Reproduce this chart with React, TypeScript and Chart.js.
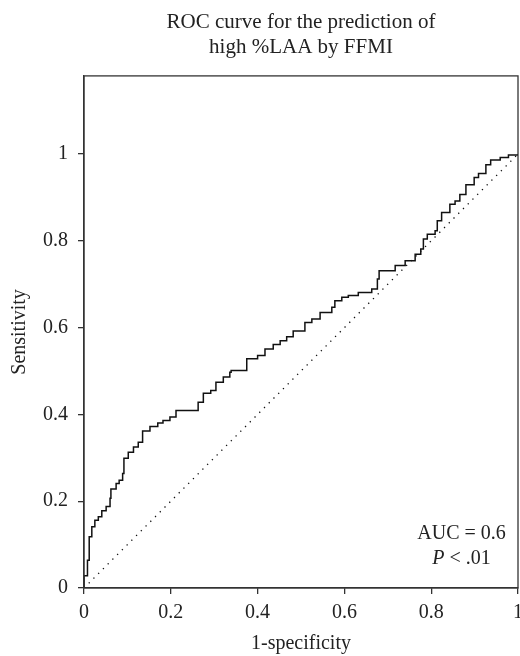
import { useEffect, useRef } from "react";
import { Chart, registerables } from "chart.js";

Chart.register(...registerables);

const titleLines = ["ROC curve for the prediction of", "high %LAA by FFMI"];
const xAxisTitle = "1-specificity";
const yAxisTitle = "Sensitivity";

const xTickValues = [0, 0.2, 0.4, 0.6, 0.8, 1];
const xTickLabels = ["0", "0.2", "0.4", "0.6", "0.8", "1"];
const yTickValues = [0, 0.2, 0.4, 0.6, 0.8, 1];
const yTickLabels = ["0", "0.2", "0.4", "0.6", "0.8", "1"];

// ROC curve (1-specificity, sensitivity), step points
const falsePositiveRate = [
  0, 0, 0.008, 0.012, 0.018, 0.025, 0.033, 0.041, 0.051, 0.06, 0.062, 0.074,
  0.081, 0.089, 0.092, 0.102, 0.114, 0.125, 0.135, 0.152, 0.17, 0.182, 0.198,
  0.212, 0.263, 0.275, 0.292, 0.304, 0.321, 0.336, 0.339, 0.375, 0.4, 0.417,
  0.436, 0.452, 0.467, 0.482, 0.509, 0.525, 0.544, 0.571, 0.578, 0.594, 0.609,
  0.632, 0.663, 0.676, 0.68, 0.717, 0.74, 0.763, 0.776, 0.782, 0.791, 0.809,
  0.814, 0.824, 0.843, 0.855, 0.866, 0.88, 0.899, 0.909, 0.926, 0.937, 0.959,
  0.978, 1,
];
const truePositiveRate = [
  0, 0.028, 0.064, 0.118, 0.141, 0.156, 0.164, 0.178, 0.188, 0.207, 0.228,
  0.241, 0.248, 0.264, 0.299, 0.313, 0.325, 0.336, 0.362, 0.372, 0.38, 0.386,
  0.394, 0.409, 0.428, 0.449, 0.455, 0.474, 0.486, 0.497, 0.501, 0.528, 0.536,
  0.551, 0.561, 0.57, 0.579, 0.592, 0.612, 0.62, 0.635, 0.647, 0.662, 0.67,
  0.674, 0.681, 0.689, 0.712, 0.731, 0.743, 0.754, 0.769, 0.781, 0.804, 0.815,
  0.823, 0.846, 0.865, 0.884, 0.892, 0.907, 0.929, 0.946, 0.955, 0.975, 0.986,
  0.992, 0.998, 1,
];

// chance diagonal
const referenceX = [0, 1];
const referenceY = [0, 1];

const aucLabel = "AUC = 0.6";
const pLetter = "P";
const pRest = " < .01";

const FONT = '"Liberation Serif", "DejaVu Serif", serif';
const INK = "#222";
const AXIS = "#333";

const framePlugin = {
  id: "frameAndNote",
  afterDatasetsDraw(chart: any) {
    const { ctx, chartArea } = chart;
    const { left, top, right, bottom } = chartArea;
    ctx.save();
    ctx.strokeStyle = AXIS;
    ctx.lineWidth = 1.3;
    ctx.strokeRect(left, top, right - left, bottom - top);

    const xs = chart.scales.x;
    const ys = chart.scales.y;
    const cx = xs.getPixelForValue(0.87);
    const y1 = ys.getPixelForValue(0.125);
    const y2 = ys.getPixelForValue(0.067);
    ctx.fillStyle = INK;
    ctx.textBaseline = "middle";
    ctx.textAlign = "center";
    ctx.font = `20px ${FONT}`;
    ctx.fillText(aucLabel, cx, y1);

    ctx.font = `italic 20px ${FONT}`;
    const wP = ctx.measureText(pLetter).width;
    ctx.font = `20px ${FONT}`;
    const wR = ctx.measureText(pRest).width;
    const start = cx - (wP + wR) / 2;
    ctx.textAlign = "left";
    ctx.font = `italic 20px ${FONT}`;
    ctx.fillText(pLetter, start, y2);
    ctx.font = `20px ${FONT}`;
    ctx.fillText(pRest, start + wP, y2);
    ctx.restore();
  },
};

export default function App() {
  const canvasRef = useRef<HTMLCanvasElement | null>(null);

  useEffect(() => {
    document.body.style.margin = "0";
    const canvas = canvasRef.current;
    if (!canvas) return;

    const rocData = falsePositiveRate.map((x, i) => ({ x, y: truePositiveRate[i] }));
    const refData = referenceX.map((x, i) => ({ x, y: referenceY[i] }));

    const chart = new Chart(canvas, {
      type: "scatter",
      data: {
        datasets: [
          {
            data: refData,
            showLine: true,
            borderColor: "#111",
            borderWidth: 1.3,
            borderDash: [1.3, 5.4],
            pointRadius: 0,
            fill: false,
          },
          {
            data: rocData,
            showLine: true,
            stepped: "before",
            borderColor: "#111",
            borderWidth: 1.5,
            pointRadius: 0,
            fill: false,
          },
        ],
      } as any,
      options: {
        responsive: false,
        animation: false,
        events: [],
        layout: { padding: { top: 0, right: 2, left: 0, bottom: 0 } },
        plugins: {
          legend: { display: false },
          tooltip: { enabled: false },
          title: {
            display: true,
            text: titleLines,
            fullSize: false,
            color: INK,
            font: { family: FONT, size: 21, weight: "normal", lineHeight: 1.2 },
            padding: { top: 9.5, bottom: 16 },
          },
        },
        scales: {
          x: {
            type: "linear",
            min: 0,
            max: 1,
            afterBuildTicks: (s: any) => {
              s.ticks = xTickValues.map((v) => ({ value: v }));
            },
            afterFit: (s: any) => {
              s.height = 68;
              s.paddingLeft = 0;
              s.paddingRight = 0;
            },
            ticks: {
              color: INK,
              font: { family: FONT, size: 20 },
              padding: 7,
              maxRotation: 0,
              autoSkip: false,
              callback: (v: any) => xTickLabels[xTickValues.indexOf(Number(v))] ?? "",
            },
            grid: {
              display: true,
              drawOnChartArea: false,
              drawTicks: true,
              tickLength: 6,
              color: AXIS,
              lineWidth: 1.3,
            },
            border: { display: true, color: AXIS, width: 1.3 },
            title: {
              display: true,
              text: xAxisTitle,
              color: INK,
              font: { family: FONT, size: 20 },
              padding: { top: 0, bottom: 0 },
            },
          },
          y: {
            type: "linear",
            min: 0,
            max: 1.18,
            afterBuildTicks: (s: any) => {
              s.ticks = yTickValues.map((v) => ({ value: v }));
            },
            afterFit: (s: any) => {
              s.width = 84;
              s.paddingTop = 0;
              s.paddingBottom = 0;
            },
            ticks: {
              color: INK,
              font: { family: FONT, size: 20 },
              padding: 10,
              autoSkip: false,
              callback: (v: any) => yTickLabels[yTickValues.indexOf(Number(v))] ?? "",
            },
            grid: {
              display: true,
              drawOnChartArea: false,
              drawTicks: true,
              tickLength: 6,
              color: AXIS,
              lineWidth: 1.3,
            },
            border: { display: true, color: AXIS, width: 1.3 },
            title: {
              display: true,
              text: yAxisTitle,
              color: INK,
              font: { family: FONT, size: 20 },
              padding: { top: 8, bottom: 0 },
            },
          },
        },
      } as any,
      plugins: [framePlugin],
    });

    return () => chart.destroy();
  }, []);

  return <canvas ref={canvasRef} width={520} height={656} style={{ display: "block" }} />;
}
